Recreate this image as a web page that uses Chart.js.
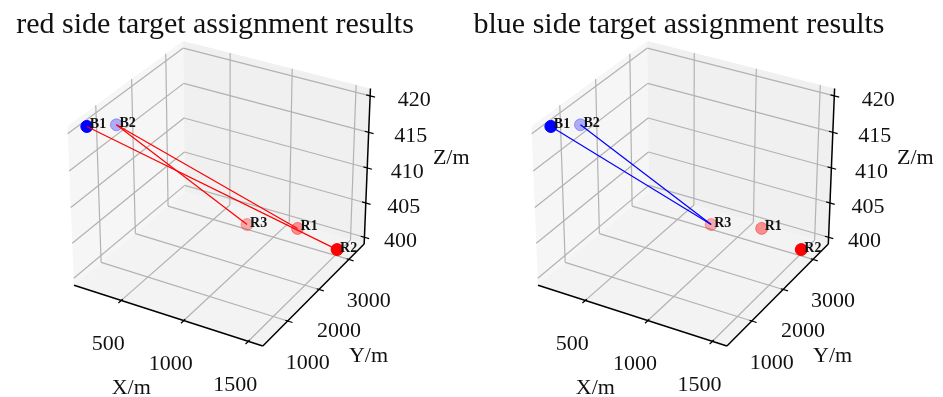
<!DOCTYPE html>
<html>
<head>
<meta charset="utf-8">
<script src="https://cdn.jsdelivr.net/npm/chart.js@4.4.0/dist/chart.umd.min.js"></script>
<style>
body { margin: 0; background: #fff; width: 943px; height: 397px; position: relative; overflow: hidden; }
canvas { position: absolute; top: 0; }
</style>
</head>
<body>
<canvas id="redChart" width="472" height="397" style="left:0px"></canvas>
<canvas id="blueChart" width="479" height="397" style="left:464px"></canvas>
<script>
// datos de las unidades (X/m, Y/m, Z/m)
var names = ['B1', 'B2', 'R1', 'R2', 'R3'];
var xVals = [166, 325, 1137, 1518, 795];
var yVals = [569, 830, 3244, 2986, 2949];
var zVals = [420, 420, 400, 400, 400];

// ejes
var xTicks = [500, 1000, 1500];
var yTicks = [1000, 2000, 3000];
var zTicks = [400, 405, 410, 415, 420];
var xLim = [112, 1610];
var yLim = [240, 3530];
var zLim = [399, 421];

// asignaciones (atacante -> objetivo)
var redPairs = [['R1', 'B2'], ['R2', 'B1'], ['R3', 'B2']];
var bluePairs = [['B1', 'R3'], ['B2', 'R3']];

var redTitle = 'red side target assignment results';
var blueTitle = 'blue side target assignment results';

// camara tipo matplotlib
var view = { elev: 30, azim: -60, dist: 10, scale: 215, cx: 221, cy: 187, aspect: [1.04, 1.04, 0.875] };

function project(x, y, z) {
    var u = ((x - xLim[0]) / (xLim[1] - xLim[0]) - 0.5) * view.aspect[0];
    var v = ((y - yLim[0]) / (yLim[1] - yLim[0]) - 0.5) * view.aspect[1];
    var w = ((z - zLim[0]) / (zLim[1] - zLim[0]) - 0.5) * view.aspect[2];
    var e = view.elev * Math.PI / 180, a = view.azim * Math.PI / 180;
    var r = -Math.sin(a) * u + Math.cos(a) * v;
    var up = -Math.sin(e) * Math.cos(a) * u - Math.sin(e) * Math.sin(a) * v + Math.cos(e) * w;
    var depth = Math.cos(e) * Math.cos(a) * u + Math.cos(e) * Math.sin(a) * v + Math.sin(e) * w;
    var f = view.dist / (view.dist - depth);
    return { x: view.cx + view.scale * f * r, y: view.cy - view.scale * f * up, depth: depth };
}

function idx(name) { return names.indexOf(name); }

function pointDatasets() {
    var sets = [];
    ['B', 'R'].forEach(function (side) {
        var rgb = side == 'B' ? '0,0,255' : '255,0,0';
        var pts = [], depths = [];
        names.forEach(function (n, i) {
            if (n[0] != side) return;
            var p = project(xVals[i], yVals[i], zVals[i]);
            pts.push({ x: p.x, y: p.y });
            depths.push(p.depth);
        });
        var dmin = Math.min.apply(null, depths), dmax = Math.max.apply(null, depths);
        var colors = depths.map(function (d) {
            var al = dmax > dmin ? 1 - 0.7 * (dmax - d) / (dmax - dmin) : 1;
            return 'rgba(' + rgb + ',' + al.toFixed(2) + ')';
        });
        sets.push({
            type: 'scatter', data: pts, order: 2,
            pointRadius: 6, pointBorderWidth: 1,
            pointBackgroundColor: colors, pointBorderColor: colors
        });
    });
    return sets;
}

function lineDatasets(pairs, color) {
    return pairs.map(function (pr) {
        var a = idx(pr[0]), b = idx(pr[1]);
        var pa = project(xVals[a], yVals[a], zVals[a]);
        var pb = project(xVals[b], yVals[b], zVals[b]);
        return {
            type: 'line', data: [{ x: pa.x, y: pa.y }, { x: pb.x, y: pb.y }], order: 1,
            showLine: true, borderColor: color, borderWidth: 1.2, pointRadius: 0, fill: false
        };
    });
}

var box3d = {
    id: 'box3d',
    beforeDatasetsDraw: function (chart) {
        var ctx = chart.ctx;
        var P = function (x, y, z) {
            var p = project(x, y, z);
            return [chart.scales.x.getPixelForValue(p.x), chart.scales.y.getPixelForValue(p.y)];
        };
        var x0 = xLim[0], x1 = xLim[1], y0 = yLim[0], y1 = yLim[1], z0 = zLim[0], z1 = zLim[1];
        var poly = function (pts, fill) {
            ctx.beginPath();
            pts.forEach(function (q, i) { var s = P(q[0], q[1], q[2]); if (i) ctx.lineTo(s[0], s[1]); else ctx.moveTo(s[0], s[1]); });
            ctx.closePath();
            ctx.fillStyle = fill;
            ctx.fill();
        };
        var seg = function (a, b, color, width) {
            var s = P(a[0], a[1], a[2]), t = P(b[0], b[1], b[2]);
            ctx.beginPath();
            ctx.moveTo(s[0], s[1]);
            ctx.lineTo(t[0], t[1]);
            ctx.strokeStyle = color;
            ctx.lineWidth = width;
            ctx.stroke();
        };
        ctx.save();
        // paneles
        poly([[x0, y0, z0], [x0, y1, z0], [x0, y1, z1], [x0, y0, z1]], 'rgb(246,246,246)');
        poly([[x0, y1, z0], [x1, y1, z0], [x1, y1, z1], [x0, y1, z1]], 'rgb(240,240,240)');
        poly([[x0, y0, z0], [x1, y0, z0], [x1, y1, z0], [x0, y1, z0]], 'rgb(243,243,243)');
        // grilla
        var gc = 'rgb(178,178,178)';
        xTicks.forEach(function (t) {
            seg([t, y0, z0], [t, y1, z0], gc, 1.2);
            seg([t, y1, z0], [t, y1, z1], gc, 1.2);
        });
        yTicks.forEach(function (t) {
            seg([x0, t, z0], [x1, t, z0], gc, 1.2);
            seg([x0, t, z0], [x0, t, z1], gc, 1.2);
        });
        zTicks.forEach(function (t) {
            seg([x0, y0, t], [x0, y1, t], gc, 1.2);
            seg([x0, y1, t], [x1, y1, t], gc, 1.2);
        });
        // ejes
        seg([x0, y0, z0], [x1, y0, z0], '#000', 1.5);
        seg([x1, y0, z0], [x1, y1, z0], '#000', 1.5);
        seg([x1, y1, z0], [x1, y1, z1], '#000', 1.5);
        var xr = x1 - x0, yr = y1 - y0;
        xTicks.forEach(function (t) { seg([t, y0 - 0.025 * yr, z0], [t, y0 + 0.012 * yr, z0], '#000', 1.2); });
        yTicks.forEach(function (t) { seg([x1 + 0.025 * xr, t, z0], [x1 - 0.012 * xr, t, z0], '#000', 1.2); });
        zTicks.forEach(function (t) { seg([x1 + 0.025 * xr, y1, t], [x1 - 0.02 * xr, y1, t], '#000', 1.2); });
        // etiquetas
        ctx.fillStyle = '#111';
        ctx.font = '22px "Liberation Serif"';
        ctx.textAlign = 'center';
        ctx.textBaseline = 'middle';
        xTicks.forEach(function (t) { var s = P(t, y0, z0); ctx.fillText(String(t), s[0] - 13, s[1] + 44); });
        yTicks.forEach(function (t) { var s = P(x1, t, z0); ctx.fillText(String(t), s[0] + 20, s[1] + 42); });
        zTicks.forEach(function (t) {
            var s = P(x1, y1, t);
            ctx.fillText(String(t), s[0] + 36 + 8 * (t - zTicks[0]) / (zTicks[zTicks.length - 1] - zTicks[0]), s[1] + 4);
        });
        var s = P((x0 + x1) / 2, y0, z0); ctx.fillText('X/m', s[0] - 35, s[1] + 73);
        s = P(x1, (y0 + y1) / 2, z0); ctx.fillText('Y/m', s[0] + 53, s[1] + 63);
        s = P(x1, y1, (z0 + z1) / 2); ctx.fillText('Z/m', s[0] + 84, s[1] - 10);
        ctx.restore();
    },
    afterDatasetsDraw: function (chart, args, opts) {
        var ctx = chart.ctx;
        ctx.save();
        ctx.fillStyle = '#111';
        ctx.font = 'bold 14px "Liberation Serif"';
        ctx.textAlign = 'left';
        ctx.textBaseline = 'alphabetic';
        names.forEach(function (n, i) {
            var p = project(xVals[i], yVals[i], zVals[i]);
            ctx.fillText(n, chart.scales.x.getPixelForValue(p.x) + 3, chart.scales.y.getPixelForValue(p.y) + 2);
        });
        ctx.font = '30px "Liberation Serif"';
        ctx.textAlign = 'center';
        ctx.fillText(opts.title, 215, 33);
        ctx.restore();
    }
};

function makeChart(id, pairs, color, title) {
    var canvas = document.getElementById(id);
    return new Chart(canvas.getContext('2d'), {
        type: 'scatter',
        data: { datasets: lineDatasets(pairs, color).concat(pointDatasets()) },
        options: {
            responsive: false,
            animation: false,
            layout: { padding: 0 },
            scales: {
                x: { type: 'linear', display: false, min: 0, max: canvas.width },
                y: { type: 'linear', display: false, min: 0, max: canvas.height, reverse: true }
            },
            plugins: { legend: { display: false }, tooltip: { enabled: false }, box3d: { title: title } }
        },
        plugins: [box3d]
    });
}

makeChart('redChart', redPairs, '#ff0000', redTitle);
makeChart('blueChart', bluePairs, '#0000ff', blueTitle);
</script>
</body>
</html>
